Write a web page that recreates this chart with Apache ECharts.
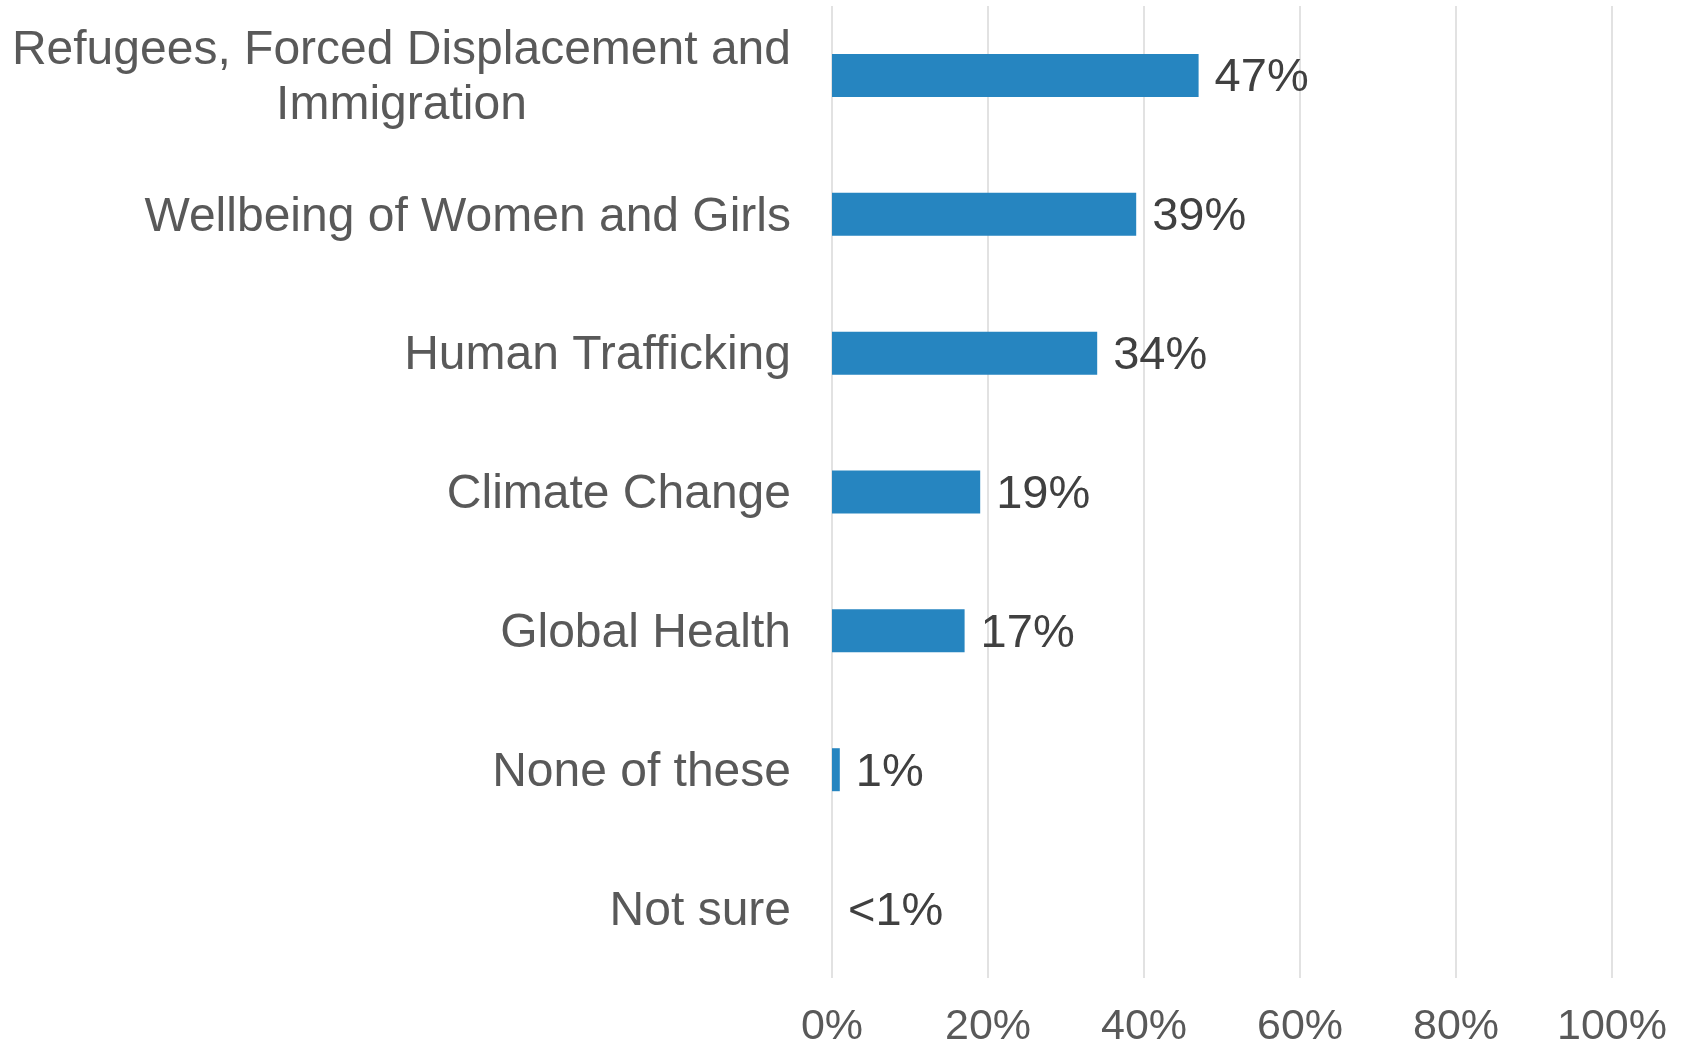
<!DOCTYPE html>
<html>
<head>
<meta charset="utf-8">
<script src="https://cdn.jsdelivr.net/npm/echarts@6/dist/echarts.min.js"></script>
<style>
  html, body { margin: 0; padding: 0; background: #fff; }
  #chart { width: 1684px; height: 1049px; }
</style>
</head>
<body>
<div id="chart"></div>
<script>
  var categories = [
    'Refugees, Forced Displacement and\nImmigration',
    'Wellbeing of Women and Girls',
    'Human Trafficking',
    'Climate Change',
    'Global Health',
    'None of these',
    'Not sure'
  ];
  var values = [47, 39, 34, 19, 17, 1, 0];
  var valueLabels = ['47%', '39%', '34%', '19%', '17%', '1%', '<1%'];
  var xTicks = [0, 20, 40, 60, 80, 100];

  var chart = echarts.init(document.getElementById('chart'));
  chart.setOption({
    animation: false,
    textStyle: { fontFamily: 'Liberation Sans, Arial, sans-serif' },
    grid: { left: 832, right: 72, top: 6, bottom: 66 },
    xAxis: {
      type: 'value',
      min: xTicks[0],
      max: xTicks[xTicks.length - 1],
      interval: 20,
      axisLine: { show: false },
      axisTick: { show: false },
      splitLine: { show: true, lineStyle: { color: '#d9d9d9', width: 1.5 } },
      axisLabel: {
        margin: 28,
        fontSize: 43,
        color: '#595959',
        formatter: function (v) { return v + '%'; }
      }
    },
    yAxis: {
      type: 'category',
      inverse: true,
      data: categories,
      axisLine: { show: false },
      axisTick: { show: false },
      axisLabel: {
        margin: 41,
        fontSize: 48,
        color: '#595959',
        lineHeight: 55,
        padding: [6, 0, 0, 0],
        formatter: function (v) {
          return v.split('\n').map(function (s) { return '{c|' + s + '}'; }).join('\n');
        },
        rich: {
          c: { align: 'center', fontSize: 48, color: '#595959', lineHeight: 55 }
        }
      }
    },
    series: [{
      type: 'bar',
      data: values,
      barWidth: 43,
      itemStyle: { color: '#2685c0' },
      label: {
        show: true,
        position: 'right',
        distance: 16,
        offset: [0, 3],
        fontSize: 47,
        color: '#404040',
        formatter: function (p) { return valueLabels[p.dataIndex]; }
      }
    }]
  });
</script>
</body>
</html>
